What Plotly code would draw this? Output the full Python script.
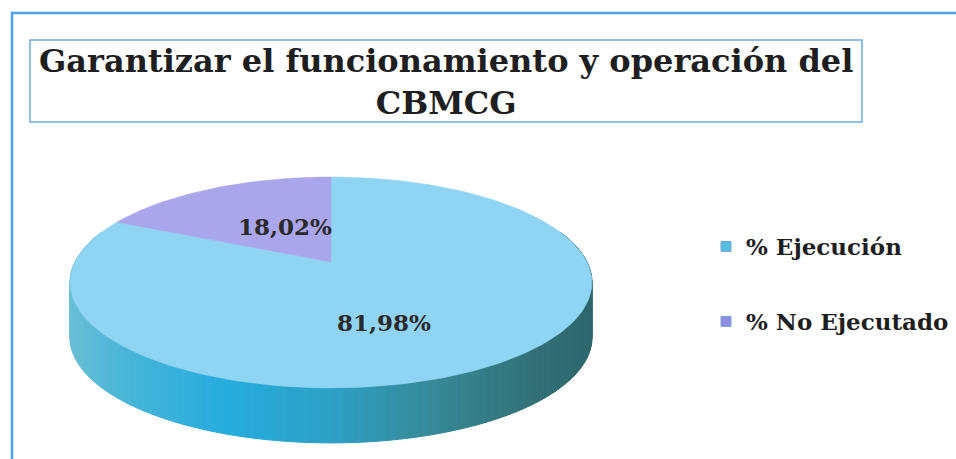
import numpy as np
import plotly.graph_objects as go

# ---- data ----
labels = ["% Ejecución", "% No Ejecutado"]
values = [81.98, 18.02]
label_texts = ["81,98%", "18,02%"]
title_text = "Garantizar el funcionamiento y operación del<br>CBMCG"

# ---- style ----
top_colors = ["#8fd4f2", "#a9a6ec"]
legend_colors = ["#55bde0", "#8e8de6"]
W, H = 956, 459
CX, CY = 331, 262      # apparent centre of top face
A, B = 256, 101.5      # projected radii
K = 0.194              # perspective strength
T = 55                 # thickness of the pie
LABEL_POS = [(384, 322), (285, 226)]
FONT = "DejaVu Serif"

def proj(theta_deg, r=1.0):
    th = np.radians(theta_deg)
    u = r * np.sin(th)
    v = -r * np.cos(th)
    w = 1 - K * v
    return CX + A * u / w, CY + B * v / w

ramp = [(0.0, (105, 190, 212)), (0.12, (70, 180, 215)), (0.3, (38, 172, 222)),
        (0.5, (45, 160, 196)), (0.7, (55, 136, 150)), (0.88, (50, 114, 120)),
        (1.0, (45, 102, 108))]

def ramp_color(t):
    t = min(max(t, 0), 1)
    for (t0, c0), (t1, c1) in zip(ramp[:-1], ramp[1:]):
        if t0 <= t <= t1:
            f = (t - t0) / (t1 - t0) if t1 > t0 else 0
            c = [round(a + (b - a) * f) for a, b in zip(c0, c1)]
            return f"rgb({c[0]},{c[1]},{c[2]})"
    return f"rgb{ramp[-1][1]}"

fig = go.Figure()

# ---- side of the pie (front is all first slice) ----
step = 2.0
segs = []
for a0 in np.arange(0, 360, step):
    a1 = a0 + step
    vmid = -np.cos(np.radians((a0 + a1) / 2))
    if vmid < -0.3:
        continue
    x0, y0 = proj(a0)
    x1, y1 = proj(a1)
    segs.append((vmid, [x0, x1, x1, x0, x0], [y0, y1, y1 + T, y0 + T, y0], (x0 + x1) / 2))
segs.sort(key=lambda s: s[0])
xmin, xmax = CX - A * 1.02, CX + A * 1.02
for vmid, xs, ys, xm in segs:
    col = ramp_color((xm - xmin) / (xmax - xmin))
    fig.add_trace(go.Scatter(x=xs, y=ys, mode="lines", fill="toself", fillcolor=col,
                             line=dict(color=col, width=1), hoverinfo="skip",
                             showlegend=False))

# ---- top faces ----
total = sum(values)
start = 0.0
for lab, val, col in zip(labels, values, top_colors):
    end = start + 360 * val / total
    angs = np.linspace(start, end, max(int((end - start) / 1.5), 4))
    pts = [proj(a) for a in angs]
    xs = [CX] + [p[0] for p in pts] + [CX]
    ys = [CY] + [p[1] for p in pts] + [CY]
    fig.add_trace(go.Scatter(x=xs, y=ys, mode="lines", fill="toself", fillcolor=col,
                             line=dict(color=col, width=0.5), name=lab,
                             hoverinfo="name", showlegend=False))
    start = end

# ---- legend entries ----
for i, (lab, col) in enumerate(zip(labels, legend_colors)):
    fig.add_trace(go.Scatter(x=[None], y=[None], mode="markers", name=lab,
                             legendgroup=f"g{i}",
                             marker=dict(symbol="square", size=10, color=col,
                                         line=dict(color="#7aa0d8", width=1))))

# ---- slice labels ----
for txt, (lx, ly) in zip(label_texts, LABEL_POS):
    fig.add_annotation(x=lx, y=ly, xref="x", yref="y", text=txt, showarrow=False,
                       font=dict(family=FONT, size=23, color="#2a2a2a", weight="bold"))

# ---- title ----
fig.add_annotation(x=446, y=82, xref="x", yref="y", text=title_text, showarrow=False,
                   font=dict(family=FONT, size=32, color="#1e1e1e", weight="bold"))

shapes = [
    dict(type="rect", xref="x", yref="y", x0=12, x1=990, y0=13, y1=500,
         line=dict(color="#4d9ff0", width=2.5)),
    dict(type="rect", xref="x", yref="y", x0=30, x1=862, y0=40, y1=122,
         line=dict(color="#6aa9f0", width=1.5)),
]

fig.update_layout(
    width=W, height=H,
    margin=dict(l=0, r=0, t=0, b=0),
    paper_bgcolor="white", plot_bgcolor="white",
    xaxis=dict(range=[0, W], visible=False, fixedrange=True),
    yaxis=dict(range=[H, 0], visible=False, fixedrange=True),
    shapes=shapes,
    showlegend=True,
    legend=dict(x=706 / W, y=1 - 225 / H, xanchor="left", yanchor="top",
                bgcolor="rgba(0,0,0,0)", tracegroupgap=42,
                font=dict(family=FONT, size=23, color="#1e1e1e", weight="bold")),
)

fig.write_html("out.html", config={"displayModeBar": False},
               post_script="document.body.style.margin='0';document.body.style.overflow='hidden';")
